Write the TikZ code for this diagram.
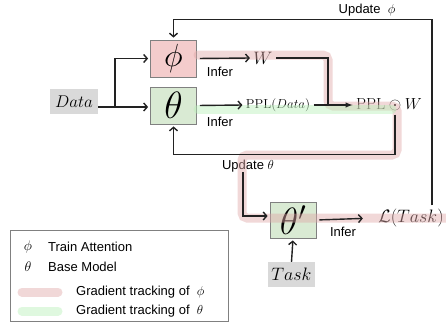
\documentclass[tikz,border=0pt]{standalone}
\usepackage{fix-cm}
\usepackage{fontspec}
\newfontfamily\labelsf{Liberation Sans}
\usetikzlibrary{calc, arrows.meta}
\definecolor{phibox}{HTML}{F4CCCC}
\definecolor{thetabox}{HTML}{D9EAD3}
\definecolor{inbox}{HTML}{D9D9D9}
\definecolor{gradphi}{HTML}{DFA8A8}
\definecolor{gradtheta}{HTML}{B8F0B8}
\definecolor{ink}{HTML}{222222}

\begin{document}
\begin{tikzpicture}[x=1pt, y=-1pt, >={Straight Barb[length=3.5pt, width=8pt]},
    wire/.style={line width=1.4pt, color=ink},
    parambox/.style={shape=rectangle, draw=gray, line width=0.8pt, minimum width=46pt, minimum height=37pt, inner sep=0pt},
    inputbox/.style={shape=rectangle, fill=inbox, minimum width=48pt, minimum height=25pt, inner sep=0pt},
    lbl/.style={font=\labelsf\fontsize{13}{15}\selectfont, inner sep=0pt},
    track/.style={line width=9pt, opacity=0.45, rounded corners=5pt, line cap=round}]
    \useasboundingbox (0,0) rectangle (446,322);

    \node at (74,101.5) (Data) [inputbox] {\fontsize{17}{20}\selectfont $Data$};
    \node at (173.5,58.5) (phi) [parambox, fill=phibox] {\fontsize{32}{34}\selectfont $\phi$};
    \node at (173.5,105.5) (theta) [parambox, fill=thetabox] {\fontsize{38}{40}\selectfont $\theta$};
    \node at (263,58) (W) {\fontsize{18}{20}\selectfont $W$};
    \node at (278,105) (PPLD) {\fontsize{13}{15}\selectfont $\mathrm{PPL}(Data)$};
    \node at (389,105) (PPLW) {\fontsize{16}{18}\selectfont $\mathrm{PPL}\odot W$};
    \node at (293,220) (thetap) [parambox, fill=thetabox, minimum height=36pt] {\fontsize{38}{40}\selectfont $\theta'$};
    \node at (291.5,274.5) (Task) [inputbox, minimum width=47pt] {\fontsize{18}{20}\selectfont $Task$};
    \node at (411,218) (loss) {\fontsize{18}{20}\selectfont $\mathcal{L}(Task)$};

    \node at (220,72) (infer1) [lbl] {Infer};
    \node at (220,122) (infer2) [lbl] {Infer};
    \node at (343,232) (infer3) [lbl] {Infer};
    \node at (248,166) (updtheta) [lbl] {Update $\theta$};
    \node at (367,10) (updphi) [lbl] {Update~ $\phi$};

    % gradient tracks
    \draw[track, color=gradphi] (198,55) -- (328,55) -- (328,106) -- (397,106) -- (397,155) -- (242,155) -- (242,218) -- (446,218);
    \draw[track, color=gradtheta] (198,109) -- (392,109);

    \coordinate (split) at (115,107);
    \coordinate (join) at (328,105);
    \draw[wire, ->, shorten >=2pt] (Data.east |- split) -- (split -| theta.west);
    \draw[wire, ->, shorten >=2pt] (split) |- (phi.west);
    \draw[wire, ->, shorten <=3pt] (phi.east) -- (W.west);
    \draw[wire] (W.east) -| (join);
    \draw[wire, ->, shorten <=3pt] (theta.east) -- (PPLD.west);
    \draw[wire, -latex] (PPLD.east) -- (PPLW.west);
    \draw[wire, ->, shorten >=2pt] ([xshift=6pt]PPLW.south) |- ($(theta.south)+(0,30)$) -- (theta.south);
    \draw[wire, ->, shorten >=2pt] ([xshift=-5pt]updtheta.south) |- ([yshift=4pt]thetap.west);
    \draw[wire, ->, shorten <=3pt, shorten >=12pt] (thetap.east) -- (loss.west);
    \draw[wire, ->, shorten >=2pt] (Task.north) -- (thetap.south);
    \draw[wire, ->, shorten >=2pt] ([xshift=21pt]loss.north) |- ($(phi.north)+(0,-20)$) -- (phi.north);

    % legend
    \draw[gray, line width=0.8pt] (10,230) rectangle (228,321);
    \node at (28,247) (keyphi) {\fontsize{14}{16}\selectfont $\phi$};
    \node at (48,247) (keyphitxt) [lbl, anchor=west] {Train Attention};
    \node at (28,267) (keytheta) {\fontsize{14}{16}\selectfont $\theta$};
    \node at (48,267) (keythetatxt) [lbl, anchor=west] {Base Model};
    \draw[track, color=gradphi] (22,292) -- (58,292);
    \node at (76,292) (keygradphi) [lbl, anchor=west] {Gradient tracking of~ $\phi$};
    \draw[track, color=gradtheta] (22,311) -- (58,311);
    \node at (76,311) (keygradtheta) [lbl, anchor=west] {Gradient tracking of~ $\theta$};
\end{tikzpicture}
\end{document}
